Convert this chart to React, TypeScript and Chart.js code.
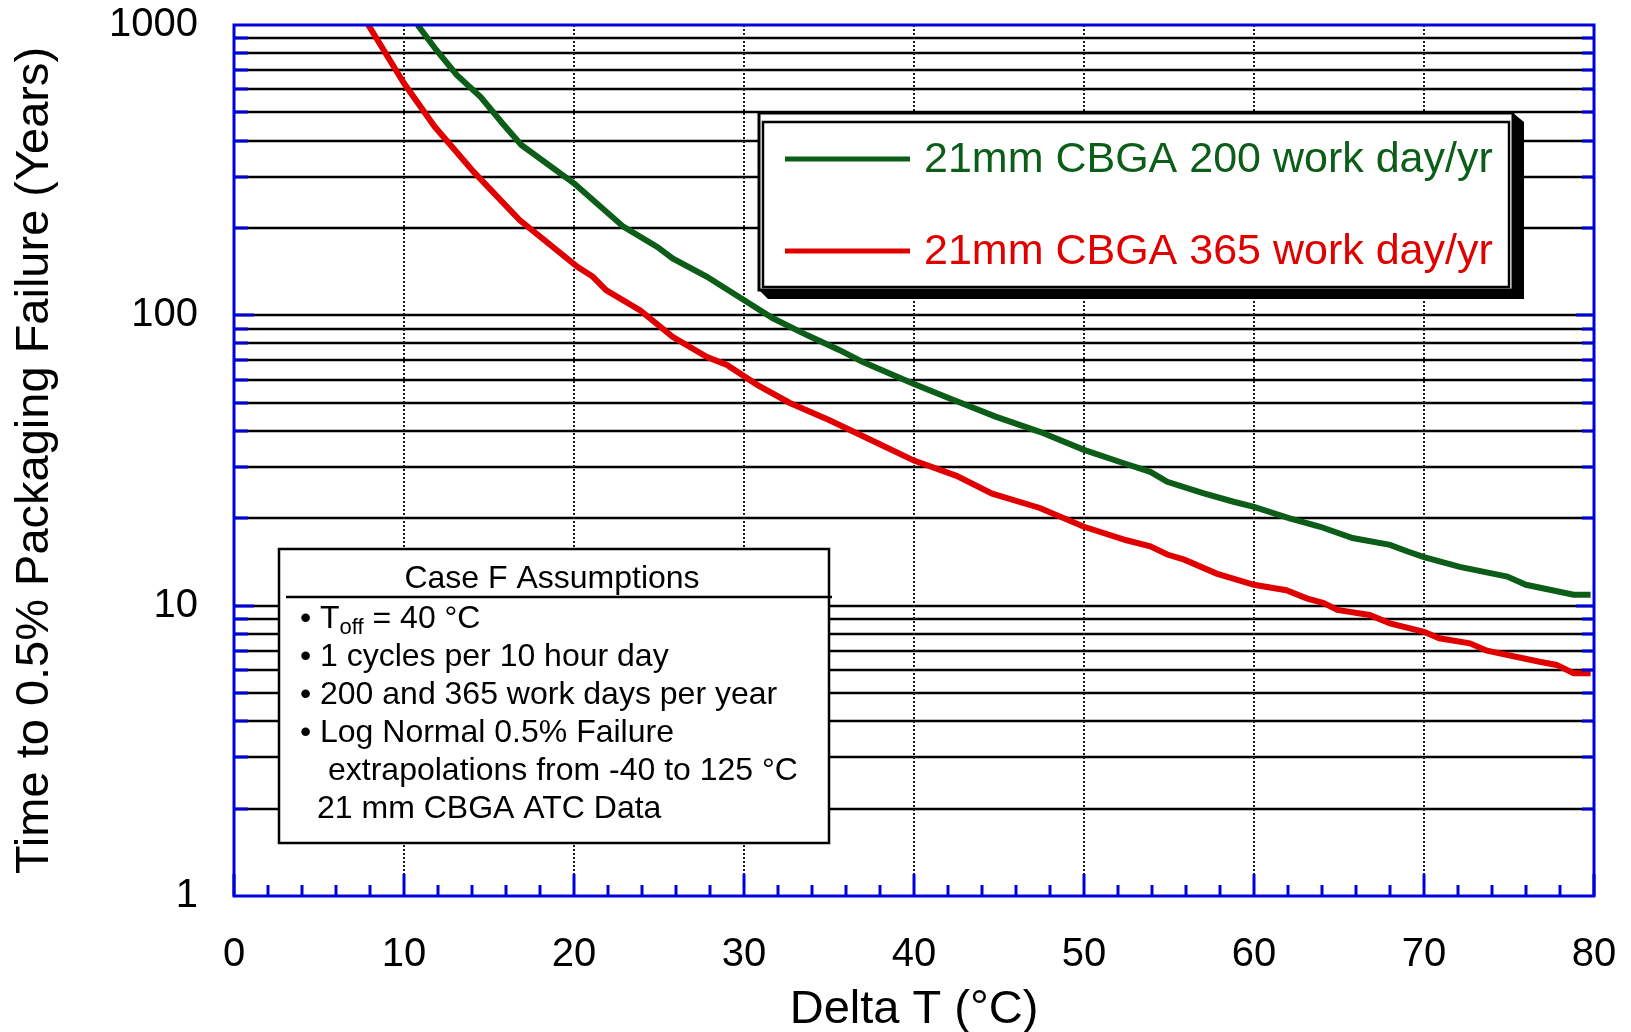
import React, { useEffect, useRef } from 'react';
import { Chart, registerables } from 'chart.js';

Chart.register(...registerables);

const FONT = '"Liberation Sans", Arial, Helvetica, sans-serif';

// ---- data ----
const greenX = [10.8, 11.9, 13.1, 14.5, 15.8, 16.9, 20.0, 22.9, 24.9, 25.8, 27.8, 30.2, 31.7, 33.7, 35.6, 37.0, 40.0, 42.0, 44.8, 47.4, 50.0, 52.3, 53.9, 54.9, 57.0, 58.8, 60.0, 62.1, 63.9, 65.8, 68.0, 69.0, 70.0, 72.1, 74.9, 76.0, 78.8, 79.8];
const greenY = [1000, 820, 673, 566, 458, 386, 285, 202, 172, 157, 136, 111, 97.7, 85.5, 76, 69, 58, 52, 44.8, 39.7, 34.4, 31, 28.9, 26.7, 24.4, 22.8, 21.9, 20, 18.7, 17.1, 16.2, 15.4, 14.7, 13.6, 12.6, 11.8, 10.9, 10.9];

const redX = [7.9, 10.0, 11.8, 14.1, 16.8, 20.2, 21.1, 21.9, 23.9, 25.8, 27.8, 29.0, 30.8, 32.7, 35.0, 37.9, 40.0, 42.5, 44.6, 47.4, 50.0, 52.5, 53.9, 54.9, 55.9, 57.8, 60.0, 61.9, 63.1, 64.1, 64.9, 66.8, 68.0, 70.0, 70.9, 72.7, 73.7, 76.8, 77.8, 78.8, 79.8];
const redY = [1000, 630, 447, 312, 213, 147, 136, 122, 104, 84.4, 72, 67.5, 57.5, 49.9, 43.6, 36.2, 31.6, 28.0, 24.3, 21.7, 18.7, 16.8, 16.0, 15.0, 14.4, 12.9, 11.8, 11.3, 10.6, 10.2, 9.67, 9.29, 8.69, 8.13, 7.72, 7.42, 7.0, 6.41, 6.25, 5.85, 5.85];

const seriesLabels = ['21mm CBGA 200 work day/yr', '21mm CBGA 365 work day/yr'];
const seriesColors = ['#0b5d18', '#e00000'];

const xTickValues = [0, 10, 20, 30, 40, 50, 60, 70, 80];
const xMinorTicks = [2, 4, 6, 8, 12, 14, 16, 18, 22, 24, 26, 28, 32, 34, 36, 38, 42, 44, 46, 48, 52, 54, 56, 58, 62, 64, 66, 68, 72, 74, 76, 78];
const yTickLabels = ['1', '10', '100', '1000'];
const yMajorTicks = [1, 10, 100, 1000];
const yMinorTicks = [2, 3, 4, 5, 6, 7, 8, 9, 20, 30, 40, 50, 60, 70, 80, 90, 200, 300, 400, 500, 600, 700, 800, 900];

const xTitle = 'Delta T (\u00B0C)';
const yTitle = 'Time to 0.5% Packaging Failure (Years)';

const boxTitle = 'Case F Assumptions';
const boxToff = ['T', 'off', ' = 40 \u00B0C'];
const boxLines = [
  { bullet: true, text: '1 cycles per 10 hour day', indent: 0 },
  { bullet: true, text: '200 and 365 work days per year', indent: 0 },
  { bullet: true, text: 'Log Normal 0.5% Failure', indent: 0 },
  { bullet: false, text: 'extrapolations from -40 to 125 \u00B0C', indent: 8 },
  { bullet: false, text: '21 mm CBGA ATC Data', indent: -3 },
];

const BLUE = '#0000dc';

const decorPlugin = {
  id: 'decor',
  beforeDatasetsDraw(chart: any) {
    const { ctx, chartArea: a, scales } = chart;
    const x = scales.x;
    const y = scales.y;
    ctx.save();
    ctx.strokeStyle = '#000';
    ctx.lineWidth = 2.4;
    for (const v of [...yMinorTicks, 10, 100]) {
      const py = Math.round(y.getPixelForValue(v));
      ctx.beginPath();
      ctx.moveTo(a.left, py);
      ctx.lineTo(a.right, py);
      ctx.stroke();
    }
    ctx.setLineDash([2, 2]);
    ctx.strokeStyle = '#1a1a1a';
    ctx.lineWidth = 2;
    for (const v of xTickValues) {
      const px = Math.round(x.getPixelForValue(v));
      ctx.beginPath();
      ctx.moveTo(px, a.top);
      ctx.lineTo(px, a.bottom);
      ctx.stroke();
    }
    ctx.restore();
  },
  afterDatasetsDraw(chart: any) {
    const { ctx, chartArea: a, scales } = chart;
    const x = scales.x;
    const y = scales.y;
    ctx.save();
    ctx.strokeStyle = BLUE;
    ctx.lineWidth = 3;
    ctx.strokeRect(a.left, a.top, a.right - a.left, a.bottom - a.top);
    for (const v of [...yMinorTicks, 10, 100]) {
      const py = Math.round(y.getPixelForValue(v));
      const len = yMajorTicks.includes(v) ? 20 : 14;
      ctx.beginPath();
      ctx.moveTo(a.left, py);
      ctx.lineTo(a.left + len, py);
      ctx.moveTo(a.right, py);
      ctx.lineTo(a.right - (len - 2), py);
      ctx.stroke();
    }
    for (const v of xMinorTicks) {
      const px = Math.round(x.getPixelForValue(v));
      ctx.beginPath();
      ctx.moveTo(px, a.bottom);
      ctx.lineTo(px, a.bottom - 11);
      ctx.stroke();
    }
    for (const v of xTickValues) {
      const px = Math.round(x.getPixelForValue(v));
      ctx.beginPath();
      ctx.moveTo(px, a.bottom);
      ctx.lineTo(px, a.bottom - 22);
      ctx.stroke();
    }
    ctx.restore();
  },
  afterDraw(chart: any) {
    const { ctx } = chart;
    ctx.save();
    // ---- legend box ----
    const L = 759, T = 113, R = 1513, B = 290;
    ctx.fillStyle = '#000';
    ctx.beginPath();
    ctx.moveTo(R, T);
    ctx.lineTo(R + 11, T + 9);
    ctx.lineTo(R + 11, B + 9);
    ctx.lineTo(L + 9, B + 9);
    ctx.lineTo(L, B);
    ctx.closePath();
    ctx.fill();
    ctx.fillStyle = '#fff';
    ctx.fillRect(L, T, R - L, B - T);
    ctx.strokeStyle = '#000';
    ctx.lineWidth = 3;
    ctx.strokeRect(L, T, R - L, B - T);
    ctx.lineWidth = 2.5;
    ctx.strokeRect(L + 4, T + 9, R - L - 8, B - T - 12);
    const rowsY = [159, 251];
    chart.data.datasets.forEach((ds: any, i: number) => {
      ctx.strokeStyle = ds.borderColor;
      ctx.lineWidth = 5;
      ctx.beginPath();
      ctx.moveTo(785, rowsY[i]);
      ctx.lineTo(910, rowsY[i]);
      ctx.stroke();
      ctx.fillStyle = ds.borderColor;
      ctx.font = `43px ${FONT}`;
      ctx.textAlign = 'left';
      ctx.textBaseline = 'middle';
      ctx.fillText(ds.label, 924, rowsY[i] + 1);
    });

    // ---- assumptions box ----
    const bl = 279, bt = 549, br = 829, bb = 843;
    ctx.fillStyle = '#fff';
    ctx.fillRect(bl, bt, br - bl, bb - bt);
    ctx.strokeStyle = '#000';
    ctx.lineWidth = 2.5;
    ctx.strokeRect(bl, bt, br - bl, bb - bt);
    ctx.beginPath();
    ctx.moveTo(bl + 7, 597);
    ctx.lineTo(br + 3, 597);
    ctx.stroke();
    ctx.fillStyle = '#000';
    ctx.font = `32px ${FONT}`;
    ctx.textBaseline = 'middle';
    ctx.textAlign = 'center';
    ctx.fillText(boxTitle, 552, 579);
    ctx.textAlign = 'left';
    const lineYs = [619, 657, 695, 733, 771, 809];
    ctx.fillText('\u2022', 300, lineYs[0]);
    let cx = 320;
    ctx.fillText(boxToff[0], cx, lineYs[0]);
    cx += ctx.measureText(boxToff[0]).width;
    ctx.font = `22px ${FONT}`;
    ctx.fillText(boxToff[1], cx, lineYs[0] + 9);
    cx += ctx.measureText(boxToff[1]).width;
    ctx.font = `32px ${FONT}`;
    ctx.fillText(boxToff[2], cx, lineYs[0]);
    boxLines.forEach((ln, i) => {
      const yy = lineYs[i + 1];
      if (ln.bullet) ctx.fillText('\u2022', 300, yy);
      ctx.fillText(ln.text, 320 + ln.indent, yy);
    });
    ctx.restore();
  },
};

export default function App() {
  const ref = useRef<HTMLCanvasElement>(null);
  useEffect(() => {
    if (!ref.current) return;
    const chart = new Chart(ref.current, {
      type: 'scatter',
      data: {
        datasets: [
          {
            label: seriesLabels[0],
            data: greenX.map((v, i) => ({ x: v, y: greenY[i] })),
            borderColor: seriesColors[0],
            backgroundColor: seriesColors[0],
            borderWidth: 6,
            showLine: true,
            pointRadius: 0,
            tension: 0,
          },
          {
            label: seriesLabels[1],
            data: redX.map((v, i) => ({ x: v, y: redY[i] })),
            borderColor: seriesColors[1],
            backgroundColor: seriesColors[1],
            borderWidth: 6,
            showLine: true,
            pointRadius: 0,
            tension: 0,
          },
        ],
      },
      options: {
        responsive: false,
        animation: false,
        devicePixelRatio: 1,
        layout: { padding: { top: 25, right: 37, bottom: 0, left: 0 } },
        plugins: { legend: { display: false }, tooltip: { enabled: false } },
        scales: {
          x: {
            type: 'linear',
            min: 0,
            max: 80,
            grid: { display: false, drawTicks: false },
            border: { display: false },
            afterBuildTicks: (s: any) => {
              s.ticks = xTickValues.map((v) => ({ value: v }));
            },
            afterFit: (s: any) => {
              s.height = 136;
              s.paddingLeft = 0;
              s.paddingRight = 0;
            },
            ticks: {
              autoSkip: false,
              maxRotation: 0,
              padding: 35,
              color: '#000',
              font: { family: FONT, size: 40 },
              callback: (v: any) => String(v),
            },
            title: {
              display: true,
              text: xTitle,
              color: '#000',
              font: { family: FONT, size: 47, lineHeight: 1 },
              padding: { top: 0, bottom: -2 },
            },
          },
          y: {
            type: 'logarithmic',
            min: 1,
            max: 1000,
            grid: { display: false, drawTicks: false },
            border: { display: false },
            afterBuildTicks: (s: any) => {
              s.ticks = [...yMajorTicks, ...yMinorTicks].sort((p, q) => p - q).map((v) => ({ value: v }));
            },
            afterFit: (s: any) => {
              s.width = 234;
              s.paddingTop = 0;
              s.paddingBottom = 0;
            },
            ticks: {
              autoSkip: false,
              padding: 36,
              color: '#000',
              font: { family: FONT, size: 40 },
              callback: (v: any) => {
                const idx = yMajorTicks.indexOf(Number(v));
                return idx >= 0 ? yTickLabels[idx] : '';
              },
            },
            title: {
              display: true,
              text: yTitle,
              color: '#000',
              font: { family: FONT, size: 47, lineHeight: 1 },
              padding: { top: 12, bottom: 0 },
            },
          },
        },
      },
      plugins: [decorPlugin],
    } as any);
    return () => chart.destroy();
  }, []);
  return (
    <div style={{ position: 'fixed', left: 0, top: 0, width: 1631, height: 1032 }}>
      <canvas ref={ref} width={1631} height={1032} style={{ width: 1631, height: 1032, display: 'block' }} />
    </div>
  );
}
